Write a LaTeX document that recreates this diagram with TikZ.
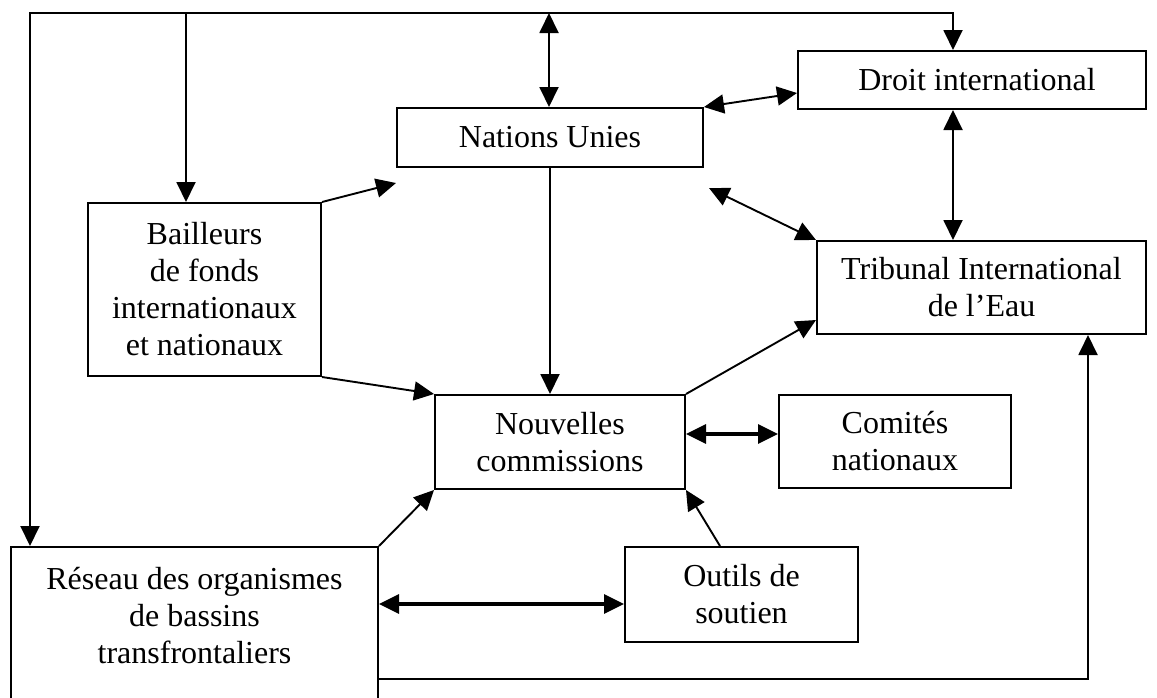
\documentclass[tikz,border=0pt]{standalone}
\usepackage{fontspec}
\setmainfont{Liberation Serif}
\usetikzlibrary{arrows.meta,calc}
\begin{document}
\begin{tikzpicture}[x=1pt,y=-1pt,
  >={Triangle[length=20pt,width=19pt]},
  box/.style={draw,line width=2pt,inner sep=0pt,align=center,font=\fontsize{32}{37}\selectfont},
  conn/.style={line width=1.9pt},
  thickconn/.style={line width=3.4pt}]
\clip (0,0) rectangle (1157,697);
\fill[white] (0,0) rectangle (1157,697);
% boxes
\node[box,minimum width=348pt,minimum height=58pt] (droit) at (972,80) {\hspace*{10pt}Droit international};
\node[box,minimum width=306pt,minimum height=59pt] (nations) at (550,137.5) {Nations Unies};
\node[box,minimum width=233pt,minimum height=173pt] (bailleurs) at (204.5,289.5) {Bailleurs\\de fonds\\internationaux\\et nationaux};
\node[box,minimum width=329pt,minimum height=93pt] (tribunal) at (981.5,287.5) {Tribunal International\\de l’Eau};
\node[box,minimum width=250pt,minimum height=94pt] (nouvelles) at (560,442) {Nouvelles\\commissions};
\node[box,minimum width=232pt,minimum height=93pt] (comites) at (895,441.5) {Comités\\nationaux};
\node[box,minimum width=233pt,minimum height=95pt] (outils) at (741.5,594.5) {Outils de\\soutien};
\node[box,minimum width=367pt,minimum height=170pt] (reseau) at (194.5,632) {};
\node[box,draw=none] (reseautxt) at (194.5,616) {Réseau des organismes\\de bassins\\transfrontaliers};
% connectors
\coordinate (tl) at (30,13);
\coordinate (tr) at (953,13);
\coordinate (tb) at (186,13);
\coordinate (tn) at (549,13);
\draw[conn,<->] (tl |- reseau.north) -- (tl) -- (tr) -- (tr |- droit.north);
\draw[conn,->] (tb) -- (tb |- bailleurs.north);
\draw[conn,<->] (tn) -- (tn |- nations.north);
\draw[conn,<->] (nations.north east) -- ([yshift=-13pt]droit.west);
\draw[conn,<->] (tr |- droit.south) -- (tr |- tribunal.north);
\coordinate (nu) at (709,188);
\draw[conn,<->] (nu) -- (tribunal.north west);
\coordinate (bn) at (396,183);
\draw[conn,->] (bailleurs.north east) -- (bn);
\draw[conn,->] (bailleurs.south east) -- (nouvelles.north west);
\draw[conn,->] (nations.south) -- (nations.south |- nouvelles.north);
\draw[conn,->] (nouvelles.north east) -- ([yshift=-32.5pt]tribunal.west);
\coordinate (hc) at (0,434);
\draw[thickconn,<->] (nouvelles.east |- hc) -- (comites.west |- hc);
\draw[conn,->] (reseau.north east) -- (nouvelles.south west);
\draw[conn,->] ([xshift=-21.5pt]outils.north) -- (nouvelles.south east);
\coordinate (ho) at (0,604);
\draw[thickconn,<->] (reseau.east |- ho) -- (outils.west |- ho);
\coordinate (br) at (1088,679);
\draw[conn,->] (reseau.east |- br) -- (br) -- (br |- tribunal.south);
\end{tikzpicture}
\end{document}
